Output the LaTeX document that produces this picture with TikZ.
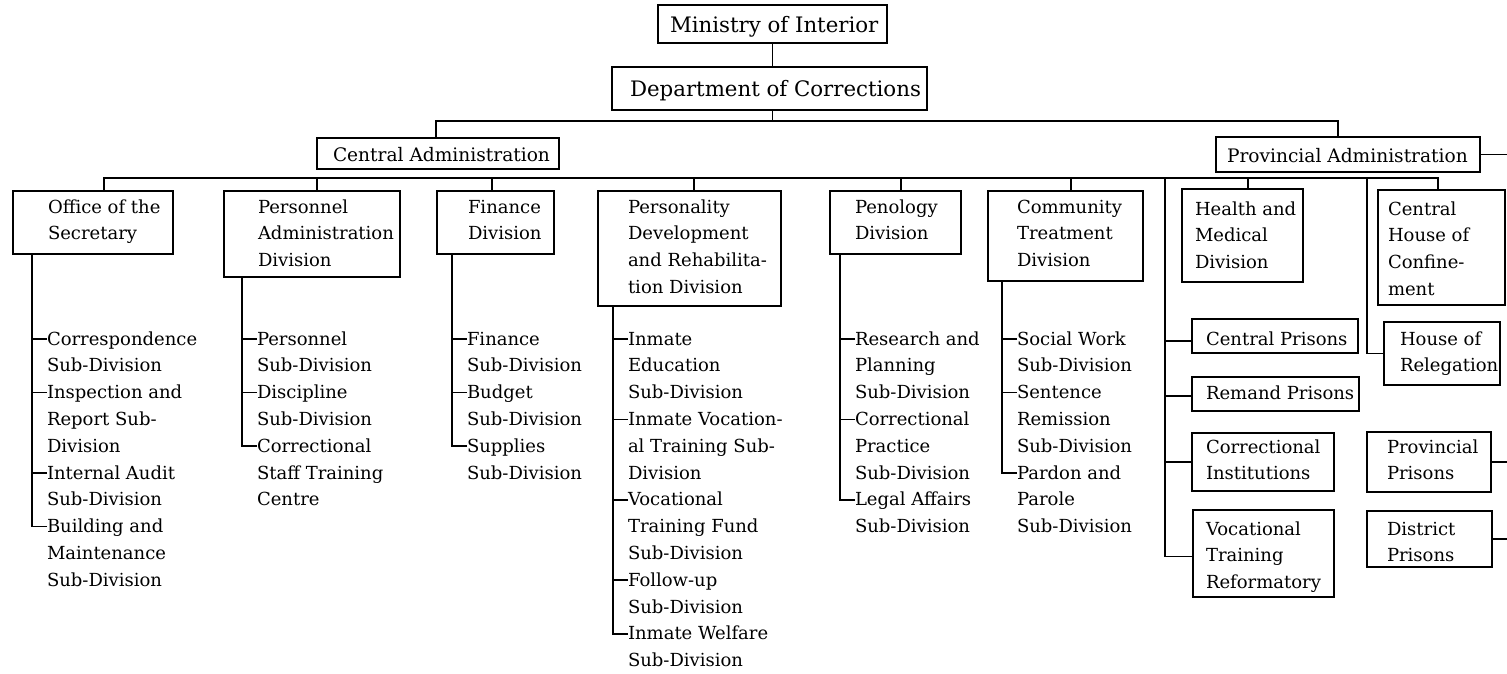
\documentclass[tikz,border=0pt]{standalone}
\usepackage{fontspec}
\setmainfont{DejaVu Serif}
\usetikzlibrary{calc}

% type sizes: sub-division lists, top offices, administrations
\newcommand\listfont{\fontsize{18}{26.8}\selectfont}
\newcommand\topfont{\fontsize{21.3}{26.8}\selectfont}
\newcommand\admfont{\fontsize{18.6}{26.8}\selectfont}

\tikzset{
  wire/.style={line width=1.6pt},
  orgframe/.style={draw, line width=1.6pt, inner sep=0pt, outer sep=0pt, anchor=north west},
  orgtext/.style={anchor=north west, inner sep=0pt, outer sep=0pt, align=left,
                  yshift=18pt, font=\listfont},
}

% \orgbox[text style]{name}{left}{top}{width}{height}{text x}{first baseline}{text}
\newcommand\orgbox[9][]{%
  \node[orgframe, minimum width=#5pt, minimum height=#6pt] (#2) at (#3,#4) {};
  \node[orgtext,#1] (#2-t) at (#7,#8) {\rule{0pt}{18pt}#9};
}

% \branch{name}{text x}{first baseline}{text}: list entry with its tick
\newcommand\branch[4]{%
  \node[orgtext] (#1) at (#2,#3) {\rule{0pt}{18pt}#4};
  \draw[wire] ([yshift=-12pt]#1.north west) -- ++(-15,0);
}

\begin{document}
\begin{tikzpicture}[x=1pt,y=-1pt]
\path[fill=white, use as bounding box] (0,0) rectangle (1507,674);
\coordinate (rim) at (1507,0);

% ---- upper levels
\orgbox[font=\topfont]{ministry}{658}{5}{229}{38}{670}{33}{Ministry of Interior}
\orgbox[font=\topfont]{dept}{612}{67}{315}{43}{630}{97}{Department of Corrections}
\orgbox[font=\admfont]{cadm}{317}{138}{242}{31}{333}{161}{Central Administration}
\orgbox[font=\admfont]{padm}{1216}{137}{264}{35}{1227}{162}{Provincial Administration}

% ---- divisions
\orgbox{office}{13}{191}{160}{63}{48}{213}{Office of the\\Secretary}
\orgbox{personnel}{224}{191}{176}{86}{258}{213}{Personnel\\Administration\\Division}
\orgbox{finance}{437}{191}{117}{63}{468}{213}{Finance\\Division}
\orgbox{pdev}{598}{191}{183}{115}{628}{213}{Personality\\Development\\and Rehabilita-\\tion Division}
\orgbox{penology}{830}{191}{131}{63}{855}{213}{Penology\\Division}
\orgbox{community}{988}{191}{155}{90}{1017}{213}{Community\\Treatment\\Division}
\orgbox{health}{1182}{189}{121}{93}{1195}{215}{Health and\\Medical\\Division}
\orgbox{chouse}{1378}{190}{127}{115}{1388}{215}{Central\\House of\\Confine-\\ment}

% ---- provincial establishments
\orgbox{cprisons}{1192}{319}{166}{34}{1206}{345}{Central Prisons}
\orgbox{rprisons}{1192}{377}{167}{34}{1206}{399}{Remand Prisons}
\orgbox{cinst}{1192}{433}{142}{58}{1206}{453}{Correctional\\Institutions}
\orgbox{vtr}{1193}{510}{141}{87}{1206}{535}{Vocational\\Training\\Reformatory}
\orgbox{relegation}{1384}{322}{116}{63}{1400}{345}{House of\\Relegation}
\orgbox{pprisons}{1367}{432}{124}{60}{1387}{453}{Provincial\\Prisons}
\orgbox{dprisons}{1367}{511}{125}{56}{1387}{535}{District\\Prisons}

% ---- sub-divisions
\branch{ofA}{47}{345}{Correspondence\\Sub-Division}
\branch{ofB}{47}{398.6}{Inspection and\\Report Sub-\\Division}
\branch{ofC}{47}{479}{Internal Audit\\Sub-Division}
\branch{ofD}{47}{532.6}{Building and\\Maintenance\\Sub-Division}

\branch{peA}{257}{345}{Personnel\\Sub-Division}
\branch{peB}{257}{398.6}{Discipline\\Sub-Division}
\branch{peC}{257}{452.2}{Correctional\\Staff Training\\Centre}

\branch{fiA}{467}{345}{Finance\\Sub-Division}
\branch{fiB}{467}{398.6}{Budget\\Sub-Division}
\branch{fiC}{467}{452.2}{Supplies\\Sub-Division}

\branch{pdA}{628}{345}{Inmate\\Education\\Sub-Division}
\branch{pdB}{628}{425.4}{Inmate Vocation-\\al Training Sub-\\Division}
\branch{pdC}{628}{505.8}{Vocational\\Training Fund\\Sub-Division}
\branch{pdD}{628}{586.2}{Follow-up\\Sub-Division}
\branch{pdE}{628}{639.8}{Inmate Welfare\\Sub-Division}

\branch{pnA}{855}{345}{Research and\\Planning\\Sub-Division}
\branch{pnB}{855}{425.4}{Correctional\\Practice\\Sub-Division}
\branch{pnC}{855}{505.8}{Legal Affairs\\Sub-Division}

\branch{coA}{1017}{345}{Social Work\\Sub-Division}
\branch{coB}{1017}{398.6}{Sentence\\Remission\\Sub-Division}
\branch{coC}{1017}{479}{Pardon and\\Parole\\Sub-Division}

% ---- spines of the sub-division lists
\draw[wire] ($(office.south -| ofA.west)+(-15,0)$) |- ([yshift=-12pt]ofD.north west);
\draw[wire] ($(personnel.south -| peA.west)+(-15,0)$) |- ([yshift=-12pt]peC.north west);
\draw[wire] ($(finance.south -| fiA.west)+(-15,0)$) |- ([yshift=-12pt]fiC.north west);
\draw[wire] ($(pdev.south -| pdA.west)+(-15,0)$) |- ([yshift=-12pt]pdE.north west);
\draw[wire] ($(penology.south -| pnA.west)+(-15,0)$) |- ([yshift=-12pt]pnC.north west);
\draw[wire] ($(community.south -| coA.west)+(-15,0)$) |- ([yshift=-12pt]coC.north west);

% ---- upper connections
\draw[wire] (ministry.south) -- (ministry.south |- dept.north);
\draw[wire] (dept.south -| ministry.south) -- ++(0,11);
\draw[wire] ([xshift=-2pt]cadm.north) -- ++(0,-17) -| ([xshift=-10pt]padm.north);

% ---- division bus
\draw[wire] ([xshift=11pt]office.north) -- ++(0,-13) -| ([xshift=-3.5pt]chouse.north);
\draw[wire] ([xshift=5pt]personnel.north) -- ++(0,-13);
\draw[wire] ([xshift=-3.5pt]finance.north) -- ++(0,-13);
\draw[wire] ([xshift=4.5pt]pdev.north) -- ++(0,-13);
\draw[wire] ([xshift=5.5pt]penology.north) -- ++(0,-13);
\draw[wire] ([xshift=5.5pt]community.north) -- ++(0,-13);
\draw[wire] ([xshift=5.5pt]health.north) -- ++(0,-11);

% ---- provincial spines
\coordinate (pspine) at (1165,178);
\draw[wire] (pspine) |- ([yshift=-3pt]vtr.west);
\draw[wire] ([yshift=-5pt]cprisons.west) -- ++(-27,0);
\draw[wire] ([yshift=-2pt]rprisons.west) -- ++(-27,0);
\draw[wire] (cinst.west) -- ++(-27,0);
\coordinate (rspine) at (1367,178);
\draw[wire] (rspine) |- (relegation.west);

% ---- lines running on past the right edge
\draw[wire] (padm.east) -- (padm.east -| rim);
\draw[wire] (pprisons.east) -- (pprisons.east -| rim);
\draw[wire] (dprisons.east) -- (dprisons.east -| rim);
\end{tikzpicture}
\end{document}
